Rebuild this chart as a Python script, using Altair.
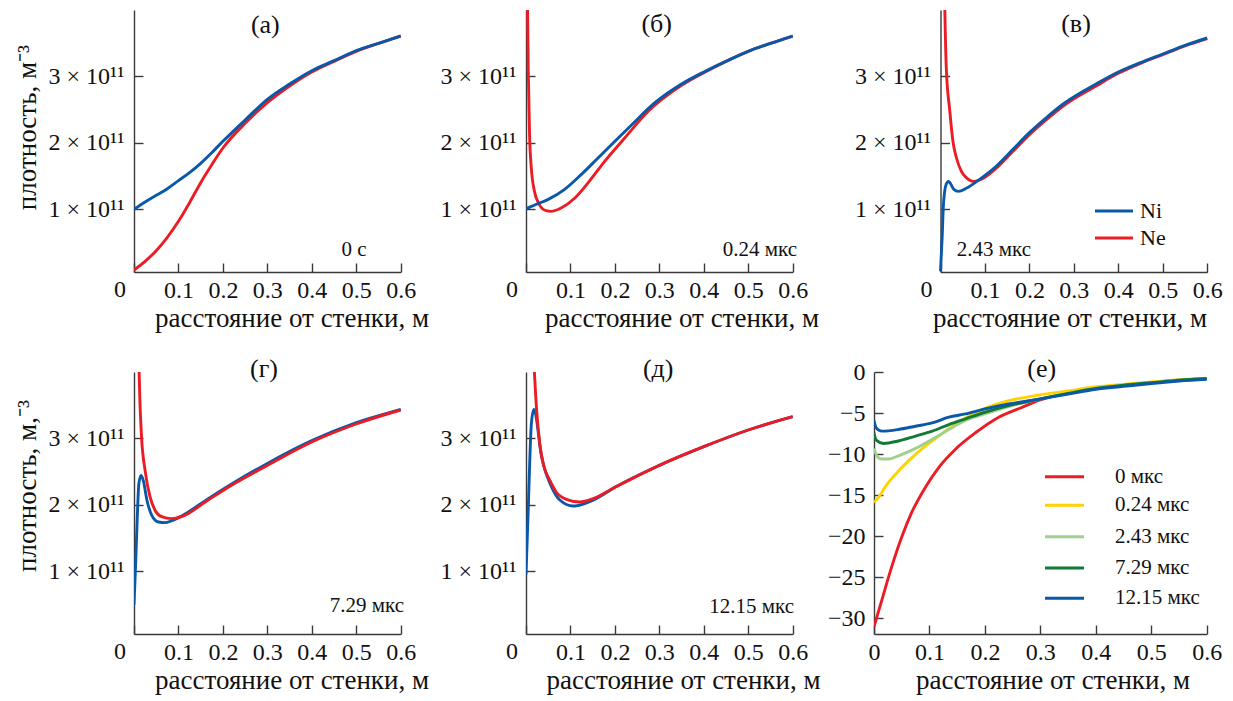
import altair as alt
import pandas as pd

FONT = "Liberation Serif"
INK = "#111111"
AXIS_INK = "#3a3a3a"
NI_COLOR = "#0a58a8"
NE_COLOR = "#ec1c24"
LINE_W = 2.9

# Densities are in units of 1e11 m^-3, x is the distance from the wall in metres.
# (а) t = 0
A_X = [0, 0.025, 0.05, 0.075, 0.1, 0.125, 0.15, 0.175, 0.2, 0.25, 0.3, 0.35, 0.4, 0.45, 0.5, 0.55, 0.6]
A_NI = [1.00, 1.11, 1.21, 1.31, 1.43, 1.55, 1.69, 1.85, 2.02, 2.34, 2.65, 2.88, 3.08, 3.23, 3.38, 3.49, 3.60]
A_NE = [0.09, 0.22, 0.38, 0.58, 0.82, 1.10, 1.40, 1.67, 1.92, 2.29, 2.60, 2.85, 3.06, 3.22, 3.37, 3.49, 3.60]

# (б) t = 0.24 мкс
B_X_NI = [0, 0.025, 0.05, 0.087, 0.124, 0.162, 0.2, 0.238, 0.29, 0.35, 0.4, 0.45, 0.5, 0.55, 0.6]
B_NI = [1.01, 1.08, 1.15, 1.30, 1.52, 1.77, 2.02, 2.27, 2.60, 2.88, 3.06, 3.22, 3.37, 3.49, 3.60]
B_X_NE = [0.002, 0.005, 0.008, 0.012, 0.019, 0.03, 0.045, 0.056, 0.079, 0.11, 0.14, 0.177,
          0.222, 0.275, 0.35, 0.4, 0.45, 0.5, 0.55, 0.6]
B_NE = [5.0, 3.12, 2.12, 1.62, 1.27, 1.07, 0.98, 0.97, 1.02, 1.17, 1.40, 1.72,
        2.07, 2.47, 2.86, 3.05, 3.22, 3.37, 3.49, 3.60]

# (в) t = 2.43 мкс
C_X_NI = [0, 0.002, 0.004, 0.006, 0.009, 0.013, 0.018, 0.023, 0.03, 0.04, 0.059, 0.088, 0.126,
          0.163, 0.2, 0.239, 0.276, 0.35, 0.4, 0.45, 0.5, 0.55, 0.6]
C_NI = [0.07, 0.35, 0.62, 1.00, 1.25, 1.38, 1.42, 1.38, 1.30, 1.27, 1.32, 1.45, 1.65,
        1.90, 2.15, 2.38, 2.58, 2.88, 3.06, 3.20, 3.33, 3.46, 3.57]
C_X_NE = [0.008, 0.013, 0.021, 0.028, 0.036, 0.047, 0.059, 0.073, 0.088, 0.126, 0.163, 0.2,
          0.239, 0.276, 0.35, 0.4, 0.45, 0.5, 0.55, 0.6]
C_NE = [4.6, 3.12, 2.47, 2.02, 1.77, 1.57, 1.47, 1.42, 1.44, 1.62, 1.87, 2.12,
        2.35, 2.55, 2.85, 3.04, 3.19, 3.32, 3.45, 3.56]

# (г) t = 7.29 мкс
D_X_NI = [0, 0.004, 0.008, 0.011, 0.016, 0.021, 0.029, 0.04, 0.055, 0.07, 0.085, 0.107,
          0.167, 0.227, 0.295, 0.4, 0.5, 0.6]
D_NI = [0.50, 1.17, 1.92, 2.32, 2.44, 2.36, 2.07, 1.84, 1.74, 1.73, 1.76, 1.83,
        2.09, 2.34, 2.60, 2.96, 3.23, 3.43]
D_X_NE = [0.009, 0.0135, 0.017, 0.025, 0.036, 0.047, 0.062, 0.085, 0.107, 0.167, 0.227,
          0.295, 0.4, 0.5, 0.6]
D_NE = [4.6, 3.51, 3.01, 2.51, 2.12, 1.92, 1.82, 1.79, 1.82, 2.07, 2.32,
        2.57, 2.94, 3.21, 3.42]

# (д) t = 12.15 мкс
E_X_NI = [0, 0.005, 0.0085, 0.012, 0.0176, 0.022, 0.027, 0.033, 0.04, 0.054, 0.076, 0.106,
          0.129, 0.158, 0.2, 0.3, 0.4, 0.5, 0.6]
E_NI = [0.95, 1.92, 2.66, 3.21, 3.43, 3.35, 3.12, 2.80, 2.58, 2.32, 2.07, 1.98,
        2.01, 2.09, 2.26, 2.59, 2.87, 3.12, 3.32]
E_X_NE = [0.015, 0.024, 0.031, 0.039, 0.054, 0.068, 0.091, 0.121, 0.151, 0.2, 0.3, 0.4, 0.5, 0.6]
E_NE = [4.5, 3.41, 2.91, 2.61, 2.36, 2.19, 2.08, 2.04, 2.09, 2.26, 2.59, 2.87, 3.12, 3.32]

# (е) potential profiles at five moments
F_LABELS = ["0 мкс", "0.24 мкс", "2.43 мкс", "7.29 мкс", "12.15 мкс"]
F_COLORS = ["#ec1c24", "#ffd200", "#9fd08c", "#137a36", "#0a58a8"]
F_X = [
    [0, 0.014, 0.032, 0.05, 0.068, 0.093, 0.117, 0.147, 0.183, 0.225, 0.267, 0.3, 0.35, 0.4, 0.45, 0.5, 0.55, 0.6],
    [0, 0.011, 0.02, 0.045, 0.069, 0.093, 0.117, 0.141, 0.165, 0.201, 0.243, 0.298, 0.35, 0.4, 0.45, 0.5, 0.55, 0.6],
    [0, 0.005, 0.014, 0.026, 0.044, 0.075, 0.105, 0.135, 0.165, 0.2, 0.243, 0.298, 0.35, 0.4, 0.45, 0.5, 0.55, 0.6],
    [0, 0.004, 0.017, 0.044, 0.075, 0.105, 0.135, 0.165, 0.2, 0.243, 0.298, 0.35, 0.4, 0.45, 0.5, 0.55, 0.6],
    [0, 0.004, 0.014, 0.044, 0.075, 0.105, 0.135, 0.165, 0.2, 0.243, 0.298, 0.35, 0.4, 0.45, 0.5, 0.55, 0.6],
]
F_Y = [
    [-31.0, -27.8, -23.7, -20.1, -17.1, -14.0, -11.6, -9.4, -7.4, -5.5, -4.3, -3.4, -2.6, -2.0, -1.6, -1.3, -1.0, -0.8],
    [-15.9, -15.0, -14.0, -12.0, -10.4, -9.0, -7.8, -6.6, -5.6, -4.4, -3.5, -2.8, -2.3, -1.8, -1.5, -1.2, -0.95, -0.75],
    [-9.3, -10.2, -10.6, -10.6, -10.2, -9.3, -8.2, -7.0, -5.9, -5.1, -4.2, -3.3, -2.6, -2.0, -1.6, -1.3, -1.0, -0.8],
    [-7.4, -8.3, -8.7, -8.4, -7.8, -7.2, -6.4, -5.7, -4.9, -4.1, -3.3, -2.6, -2.0, -1.6, -1.3, -1.0, -0.8],
    [-5.9, -6.8, -7.2, -7.0, -6.6, -6.2, -5.5, -5.1, -4.5, -3.9, -3.3, -2.7, -2.1, -1.75, -1.4, -1.1, -0.9],
]

X_TICKS = [0, 0.1, 0.2, 0.3, 0.4, 0.5, 0.6]
N_TICKS = [1, 2, 3]
PHI_TICKS = [0, -5, -10, -15, -20, -25, -30]

H = 262          # plot height of every panel
W = 266.7        # x extent of a density panel
W_PHI = 332.7    # x extent of the potential panel
N_DOMAIN = [0.06, 3.99]
PHI_DOMAIN = [-31.9, 0]

X_TITLE = "расстояние от стенки, м"


def x_axis(hide_zero):
    zero = "''" if hide_zero else "'0'"
    return alt.Axis(
        values=X_TICKS, title=None, grid=False,
        labelExpr=f"datum.value == 0 ? {zero} : format(datum.value, '.1f')",
        tickSize={"expr": "-9"}, labelPadding=27, labelBaseline="middle",
        labelFlush=False, labelOverlap=False,
    )


def n_axis(shift):
    return alt.Axis(
        values=N_TICKS, title=None, grid=False,
        labelExpr="datum.value + ' × 10¹¹'",
        tickSize={"expr": "-9"}, labelPadding=19, labelBaseline="middle",
        labelFlush=False, labelOverlap=False,
        offset={"expr": f"{-shift}"},
    )


def phi_axis():
    return alt.Axis(
        values=PHI_TICKS, title=None, grid=False, format="d",
        tickSize={"expr": "-9"}, labelPadding=18, labelBaseline="middle",
        labelFlush=False, labelOverlap=False,
    )


def curve(xs, vs, color, xscale, yscale, xaxis, yaxis):
    df = pd.DataFrame({"x": xs, "v": vs})
    return alt.Chart(df).mark_line(
        color=color, strokeWidth=LINE_W, interpolate="monotone", clip=True
    ).encode(
        x=alt.X("x:Q", scale=xscale, axis=xaxis),
        y=alt.Y("v:Q", scale=yscale, axis=yaxis),
    )


def text(t, x, y, size, align="center", baseline="middle", angle=None):
    props = dict(font=FONT, fontSize=size, align=align, baseline=baseline, color=INK)
    if angle is not None:
        props["angle"] = angle
    return alt.Chart(pd.DataFrame({"t": [t]})).mark_text(**props).encode(
        text="t:N", x=alt.value(x), y=alt.value(y)
    )


def key_line(color, x1, x2, y):
    return alt.Chart(pd.DataFrame({"k": [0]})).mark_rule(
        color=color, strokeWidth=3
    ).encode(x=alt.value(x1), x2=alt.value(x2), y=alt.value(y))


def density_panel(curves, group_width, title, title_xy, stamp, stamp_xy, stamp_align,
                  xtitle_x, ytitle=None, legend=False, shift=0):
    """One density panel; `shift` moves the plot frame right inside its cell."""
    s = shift
    xscale = alt.Scale(domain=[0, 0.6], range=[s, s + W], nice=False, zero=False)
    yscale = alt.Scale(domain=N_DOMAIN, nice=False, zero=False)
    xa, ya = x_axis(True), n_axis(s)
    layers = [curve(xs, vs, c, xscale, yscale, xa, ya) for xs, vs, c in curves]
    layers.append(text(title, s + title_xy[0], title_xy[1], 26))
    layers.append(text(stamp, s + stamp_xy[0], stamp_xy[1], 21, align=stamp_align))
    layers.append(text("0", s - 14, H + 18, 24))
    layers.append(text(X_TITLE, s + xtitle_x, H + 55, 27, align="left", baseline="alphabetic"))
    if ytitle is not None:
        layers.append(text(ytitle[0], s - 98, ytitle[1], 27, baseline="alphabetic", angle=270))
    if legend:
        layers += [
            key_line(NI_COLOR, s + 154.5, s + 192.5, 201),
            text("Ni", s + 199.5, 201, 22, align="left"),
            key_line(NE_COLOR, s + 154.5, s + 192.5, 228),
            text("Ne", s + 199.5, 228, 22, align="left"),
        ]
    return alt.layer(*layers).properties(width=group_width, height=H)


pa = density_panel(
    [(A_X, A_NE, NE_COLOR), (A_X, A_NI, NI_COLOR)], 392, "(а)", (131.3, 15),
    "0 с", (232.7, 240), "right", 21, ytitle=("плотность, м⁻³", 117.5),
)
pb = density_panel(
    [(B_X_NE, B_NE, NE_COLOR), (B_X_NI, B_NI, NI_COLOR)], 348, "(б)", (130.7, 13.5),
    "0.24 мкс", (271, 240), "right", 19,
)
pc = density_panel(
    [(C_X_NE, C_NE, NE_COLOR), (C_X_NI, C_NI, NI_COLOR)], 346.5, "(в)", (135.5, 14),
    "2.43 мкс", (16.2, 240), "left", -7.5, legend=True, shift=66.5,
)
pd_ = density_panel(
    [(D_X_NI, D_NI, NI_COLOR), (D_X_NE, D_NE, NE_COLOR)], 392, "(г)", (130, -3.5),
    "7.29 мкс", (270, 234), "right", 21, ytitle=("плотность, м,⁻³", 114),
)
pe = density_panel(
    [(E_X_NI, E_NI, NI_COLOR), (E_X_NE, E_NE, NE_COLOR)], 348, "(д)", (132.2, -3.5),
    "12.15 мкс", (268, 234.5), "right", 20.5,
)

# (е) potential panel
fx = alt.Scale(domain=[0, 0.6], range=[0, W_PHI], nice=False, zero=False)
fy = alt.Scale(domain=PHI_DOMAIN, nice=False, zero=False)
fxa, fya = x_axis(False), phi_axis()
f_layers = [curve(xs, ys, c, fx, fy, fxa, fya) for xs, ys, c in zip(F_X, F_Y, F_COLORS)]
f_layers.append(text("(е)", 167.7, -3.5, 26))
f_layers.append(text(X_TITLE, 42, H + 55, 27, align="left", baseline="alphabetic"))
key_y = [104.7, 133.3, 164.7, 196, 226.3]
for lab, col, ky in zip(F_LABELS, F_COLORS, key_y):
    f_layers.append(key_line(col, 171, 210, ky))
    f_layers.append(text(lab, 241, ky, 21, align="left"))
pf = alt.layer(*f_layers).properties(width=346.5, height=H)

chart = alt.concat(
    pa, pb, pc, pd_, pe, pf,
    columns=3,
    spacing={"row": 100, "column": 0},
    bounds="flush",
).resolve_scale(
    x="independent", y="independent"
).properties(
    autosize=alt.AutoSizeParams(type="none"),
    padding={"left": 134, "top": 10, "right": 1099, "bottom": 691},
).configure_view(
    strokeWidth=0
).configure_axis(
    domainColor=AXIS_INK, tickColor=AXIS_INK, domainWidth=1.4, tickWidth=1.4,
    labelFont=FONT, labelFontSize=24, labelColor=INK,
)

chart.save("out.html", embed_options={"renderer": "svg", "actions": False})
